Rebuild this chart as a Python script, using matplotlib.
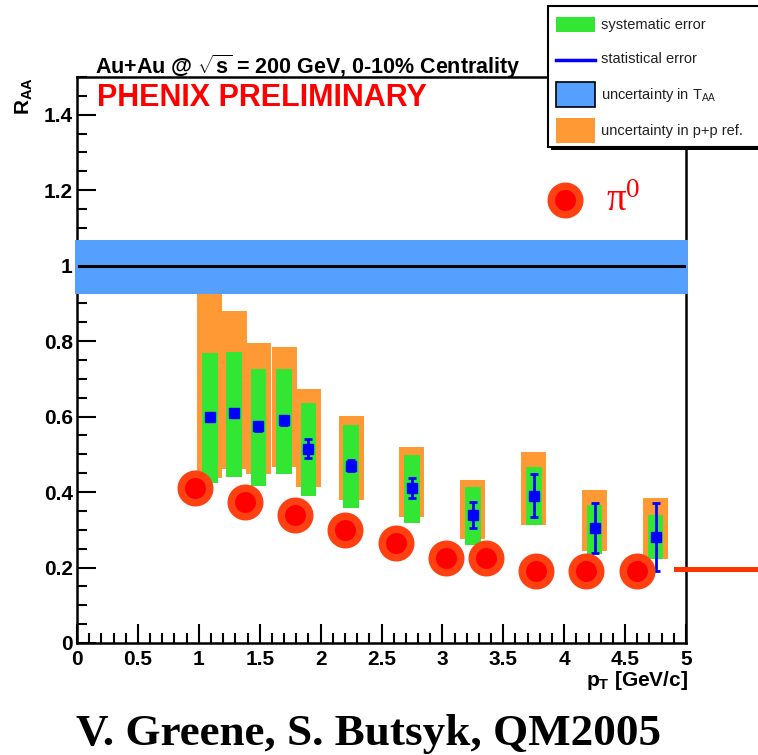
import numpy as np
import matplotlib.pyplot as plt
from matplotlib.patches import Rectangle
from matplotlib.ticker import MultipleLocator

plt.rcParams["font.family"] = ["Liberation Sans", "DejaVu Sans"]
plt.rcParams["mathtext.fontset"] = "custom"
plt.rcParams["mathtext.rm"] = "Liberation Serif"
plt.rcParams["mathtext.it"] = "Liberation Serif:italic"
plt.rcParams["mathtext.bf"] = "Liberation Sans:bold"
plt.rcParams["mathtext.sf"] = "Liberation Sans"

# 数据：0-10% 中心度下的 R_AA
pt = [1.09, 1.29, 1.49, 1.70, 1.90, 2.25, 2.75, 3.25, 3.75, 4.25, 4.75]
raa = [0.600, 0.610, 0.575, 0.590, 0.515, 0.470, 0.410, 0.340, 0.390, 0.305, 0.280]
stat_err = [0.008, 0.008, 0.012, 0.012, 0.025, 0.015, 0.026, 0.035, 0.057, 0.067, 0.090]
sys_lo = [0.425, 0.440, 0.417, 0.449, 0.390, 0.359, 0.319, 0.261, 0.314, 0.237, 0.222]
sys_hi = [0.768, 0.770, 0.726, 0.726, 0.636, 0.578, 0.499, 0.414, 0.467, 0.367, 0.340]
pp_lo = [0.438, 0.462, 0.449, 0.467, 0.414, 0.380, 0.333, 0.275, 0.314, 0.243, 0.222]
pp_hi = [0.926, 0.881, 0.794, 0.784, 0.673, 0.602, 0.520, 0.433, 0.507, 0.406, 0.385]

# π0 对比数据
pi0_pt = [0.97, 1.38, 1.79, 2.20, 2.62, 3.03, 3.36, 3.77, 4.18, 4.60]
pi0_raa = [0.410, 0.375, 0.340, 0.300, 0.265, 0.225, 0.225, 0.190, 0.190, 0.190]

taa_lo, taa_hi = 0.926, 1.069  # T_AA 不确定度
ref_level = 0.195  # 右侧参考线

xticks = [0, 0.5, 1, 1.5, 2, 2.5, 3, 3.5, 4, 4.5, 5]
xticklabels = ["0", "0.5", "1", "1.5", "2", "2.5", "3", "3.5", "4", "4.5", "5"]
yticks = [0, 0.2, 0.4, 0.6, 0.8, 1.0, 1.2, 1.4]
yticklabels = ["0", "0.2", "0.4", "0.6", "0.8", "1", "1.2", "1.4"]

green = "#33E633"
orange = "#FF9933"
taa_blue = "#55A0FF"
pi0_edge = "#FF4010"

fig = plt.figure(figsize=(7.58, 7.55), dpi=100)
ax = fig.add_axes([77 / 758, 112 / 755, 609 / 758, 566 / 755])

# 误差带
ax.bar(pt, np.subtract(pp_hi, pp_lo), bottom=pp_lo, width=0.206,
       color=orange, linewidth=0, zorder=1)
ax.bar(pt, np.subtract(sys_hi, sys_lo), bottom=sys_lo, width=0.128,
       color=green, linewidth=0, zorder=2)
ax.axhspan(taa_lo, taa_hi, xmin=-0.004, xmax=1.003, color=taa_blue,
           linewidth=0, zorder=3, clip_on=False)
ax.plot([0.02, 4.99], [1, 1], color="black", lw=2.2, zorder=4)

# 统计误差
ax.errorbar(pt, raa, yerr=stat_err, fmt="s", color="#0000FF", ms=6.5,
            elinewidth=2, capsize=3, capthick=2, zorder=5)

# π0
ax.plot(pi0_pt, pi0_raa, "o", ls="none", ms=20.5, mfc="#FF0000",
        mec=pi0_edge, mew=5.4, zorder=6)
ax.plot([4.01], [1.174], "o", ms=20.5, mfc="#FF0000", mec=pi0_edge, mew=5.4, zorder=6)
ax.text(4.34, 1.17, r"π$^{0}$", family="Liberation Serif", color="#FF0000",
        fontsize=28, va="center")

ax.plot([4.92, 5.66], [ref_level, ref_level], color="#FF3300", lw=3.6,
        clip_on=False, zorder=7)

ax.set_xlim(0, 5)
ax.set_ylim(0, 1.5)
ax.set_xticks(xticks)
ax.set_xticklabels(xticklabels)
ax.set_yticks(yticks)
ax.set_yticklabels(yticklabels)
ax.xaxis.set_minor_locator(MultipleLocator(0.1))
ax.yaxis.set_minor_locator(MultipleLocator(0.05))
ax.tick_params(which="both", direction="in", top=False, right=False, width=1.5)
ax.tick_params(which="major", length=14, labelsize=15)
ax.tick_params(which="minor", length=7.5)
ax.tick_params(axis="x", pad=5)
ax.tick_params(axis="y", pad=3)
for lbl in ax.get_xticklabels() + ax.get_yticklabels():
    lbl.set_fontweight("bold")
for s in ax.spines.values():
    s.set_linewidth(1.8)

# 文字
fig.text(95 / 758, 1 - 67 / 755, r"Au+Au @ $\sqrt{\mathbf{s}}$ = 200 GeV, 0-10% Centrality",
         fontsize=15.5, fontweight="bold", va="center")
fig.text(97 / 758, 1 - 98 / 755, "PHENIX PRELIMINARY", color="#FF0000",
         fontsize=22, fontweight="bold", va="center")
fig.text(13 / 758, 1 - 77 / 755, r"R$_\mathbf{AA}$", rotation=90, fontsize=15,
         fontweight="bold", ha="left", va="top")
fig.text(688 / 758, 1 - 681 / 755, r"p$_\mathbf{T}$ [GeV/c]", fontsize=15,
         fontweight="bold", ha="right", va="center")
fig.text(369 / 758, 1 - 745 / 755, "V. Greene, S. Butsyk, QM2005",
         family="Liberation Serif", fontweight="bold", fontsize=32.5,
         ha="center", va="baseline")

# 图例（像素坐标）
ov = fig.add_axes([0, 0, 1, 1])
ov.set_xlim(0, 758)
ov.set_ylim(755, 0)
ov.axis("off")
ov.add_patch(Rectangle((551, 9), 220, 141, facecolor="black", edgecolor="none"))
ov.add_patch(Rectangle((548, 6), 220, 141, facecolor="white", edgecolor="black", lw=1.5))
ov.add_patch(Rectangle((556, 17), 39, 15, facecolor=green, edgecolor="none"))
ov.plot([556, 595], [60, 60], color="#0000FF", lw=2.5)
ov.add_patch(Rectangle((556, 82), 39, 25, facecolor=taa_blue, edgecolor="black", lw=1.2))
ov.add_patch(Rectangle((556, 118), 39, 25, facecolor=orange, edgecolor="none"))
legend_labels = ["systematic error", "statistical error",
                 r"uncertainty in T$_\mathsf{AA}$", "uncertainty in p+p ref."]
for ty, lab in zip([25, 59, 95, 131], legend_labels):
    ov.text(601, ty, lab, fontsize=10.5, color="#222222", va="center")

plt.savefig("out.png", dpi=100)
